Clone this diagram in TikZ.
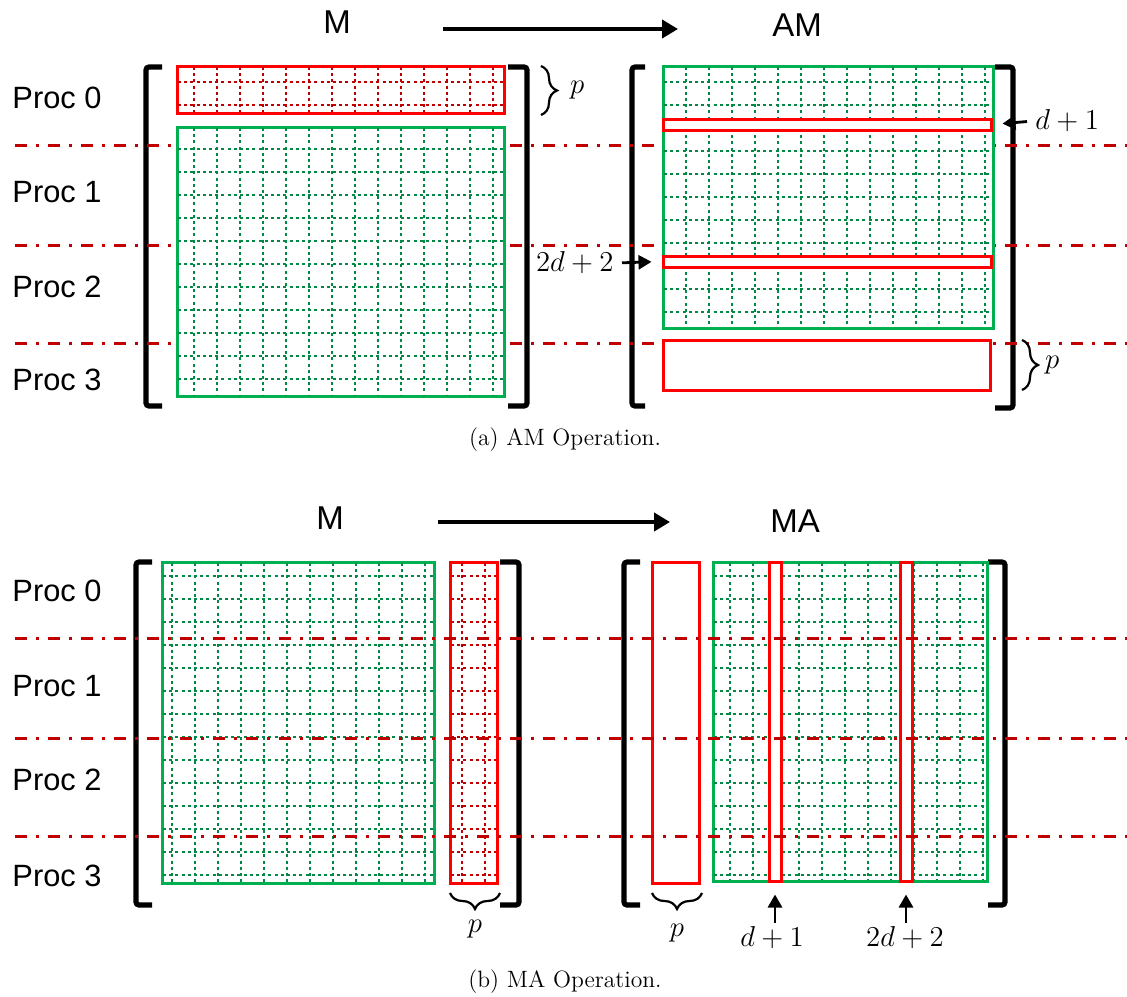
\documentclass[tikz,border=0pt]{standalone}
\usepackage{fontspec}
\newfontfamily\arial{Liberation Sans}
\usepackage{tikz}
\usetikzlibrary{arrows.meta, fit, decorations.pathreplacing}
\definecolor{boxgreen}{RGB}{0,176,80}
\definecolor{gridgreen}{RGB}{0,136,68}
\definecolor{boxred}{RGB}{255,0,0}
\definecolor{gridred}{RGB}{192,0,0}
\tikzset{
  gbox/.style  = {draw=boxgreen, line width=1.5pt, fill=white, inner sep=0pt},
  rbox/.style  = {gbox, draw=boxred},
  ggrid/.style = {draw=gridgreen, line width=1.2pt, dash pattern=on 1.5pt off 1.6pt},
  rgrid/.style = {ggrid, draw=gridred},
  brk/.style   = {line width=2.6pt, rounded corners=1.5pt},
  sep/.style   = {draw=gridred, line width=1.5pt,
                  dash pattern=on 6pt off 4.5pt on 1.5pt off 4.5pt},
  lbl/.style   = {font=\arial\fontsize{15.4}{18}\selectfont},
  ttl/.style   = {font=\arial\fontsize{16.5}{20}\selectfont},
  mth/.style   = {font=\fontsize{13.5}{16}\selectfont, inner sep=1pt},
  capt/.style  = {font=\fontsize{11.8}{14}\selectfont},
  flow/.style  = {-{Triangle[length=8pt, width=9pt]}, line width=2pt},
  thin flow/.style = {-{Triangle[length=6.5pt, width=7pt]}, line width=1.4pt},
  brc/.style   = {decorate, decoration={brace, amplitude=8pt}, line width=1.1pt},
}

\begin{document}
\begin{tikzpicture}[x=0.5pt, y=-0.5pt]
  \useasboundingbox (0,0) rectangle (1127,996);

  % (a) AM operation
  \node[ttl] (tM) at (337,22) {M};
  \node[ttl] (tAM) at (797,25) {AM};
  \coordinate (fa) at (443,29);
  \coordinate (ta) at (678,29);
  \draw[flow] (fa) -- (ta);

  \foreach \i/\y in {0/98,1/192,2/287,3/380}
    \node[lbl] (pa\i) at (57,\y) {Proc \i};

  \draw[brk] (162,67) -- (146,67) -- (146,406) -- (162,406);
  \draw[brk] (508,67) -- (527,67) -- (527,406) -- (508,406);
  \draw[brk] (645,67) -- (632,67) -- (632,406) -- (645,406);
  \draw[brk] (995,67) -- (1013,67) -- (1013,408) -- (995,408);

  \foreach \y in {145,245,343}
    \draw[sep] (15,\y) -- (1127,\y);

  \node[rbox, fit={(177,66) (504,113)}] (rowM) {};
  \foreach \x in {194,217,...,493} \draw[rgrid] (\x,67) -- (\x,112);
  \foreach \y in {82,105} \draw[rgrid] (178,\y) -- (503,\y);
  \node[gbox, fit={(177,127) (504,396)}] (restM) {};
  \foreach \x in {194,217,...,493} \draw[ggrid] (\x,128) -- (\x,395);
  \foreach \y in {149,172,...,379} \draw[ggrid] (178,\y) -- (503,\y);
  \draw[brc] (541,66) -- (541,115) node[mth, midway, right=13pt] (pA) {$p$};

  \node[gbox, fit={(663,66) (993,328)}] (matAM) {};
  \foreach \x in {686,709,...,985} \draw[ggrid] (\x,67) -- (\x,327);
  \foreach \y in {82,105,...,312} \draw[ggrid] (664,\y) -- (992,\y);
  \node[rbox, fit={(663,119) (991,130)}] (rowA) {};
  \node[rbox, fit={(663,256) (991,267)}] (rowB) {};
  \node[rbox, fit={(663,340) (990,390)}] (rowAM) {};
  \draw[brc] (1022,340) -- (1022,390) node[mth, midway, right=10pt] (pB) {$p$};

  \node[mth, anchor=west] (lA) at (1033,121) {$d+1$};
  \node[mth, anchor=east] (lB) at (616,263) {$2d+2$};
  \draw[thin flow, shorten <=3pt, shorten >=5pt] (lA.west) -- (rowA.east);
  \draw[thin flow, shorten <=3pt, shorten >=5pt] (lB.east) -- (rowB.west);

  \node[capt] (capA) at (565,440) {(a) AM Operation.};

  % (b) MA operation
  \node[ttl] (bM) at (330,518) {M};
  \node[ttl] (bMA) at (795,521) {MA};
  \coordinate (fb) at (438,522);
  \coordinate (tb) at (670,522);
  \draw[flow] (fb) -- (tb);

  \foreach \i/\y in {0/591,1/686,2/780,3/876}
    \node[lbl] (pb\i) at (57,\y) {Proc \i};

  \draw[brk] (152,562) -- (136,562) -- (136,905) -- (152,905);
  \draw[brk] (500,562) -- (519,562) -- (519,905) -- (500,905);
  \draw[brk] (640,562) -- (624,562) -- (624,905) -- (640,905);
  \draw[brk] (988,562) -- (1005,562) -- (1005,905) -- (988,905);

  \node[gbox, fit={(162,562) (434,883)}] (restMb) {};
  \foreach \x in {172,195,...,425} \draw[ggrid] (\x,563) -- (\x,882);
  \foreach \y in {576,599,...,875} \draw[ggrid] (163,\y) -- (433,\y);
  \node[rbox, fit={(450,562) (497,883)}] (colM) {};
  \foreach \x in {462,485} \draw[rgrid] (\x,563) -- (\x,882);
  \foreach \y in {576,599,...,875} \draw[rgrid] (451,\y) -- (496,\y);
  \draw[brc] (500,893) -- (450,893) node[mth, midway, below=12pt] (pC) {$p$};

  \node[rbox, fit={(652,562) (699,883)}] (colMA) {};
  \node[gbox, fit={(713,562) (987,881)}] (matMA) {};
  \foreach \x in {730,753,...,983} \draw[ggrid] (\x,563) -- (\x,880);
  \foreach \y in {576,599,...,875} \draw[ggrid] (714,\y) -- (986,\y);
  \node[rbox, fit={(769,562) (781,881)}] (colA) {};
  \node[rbox, fit={(900,562) (912,881)}] (colB) {};
  \draw[brc] (702,893) -- (652,893) node[mth, midway, below=14pt] (pD) {$p$};

  \node[mth] (lC) at (772,938) {$d+1$};
  \node[mth] (lD) at (905,938) {$2d+2$};
  \draw[thin flow, shorten <=1pt, shorten >=6pt] (lC.north -| colA) -- (colA.south);
  \draw[thin flow, shorten <=1pt, shorten >=6pt] (lD.north -| colB) -- (colB.south);

  \foreach \y in {638,738,836}
    \draw[sep] (15,\y) -- (1127,\y);

  \node[capt] (capB) at (565,982) {(b) MA Operation.};
\end{tikzpicture}
\end{document}
